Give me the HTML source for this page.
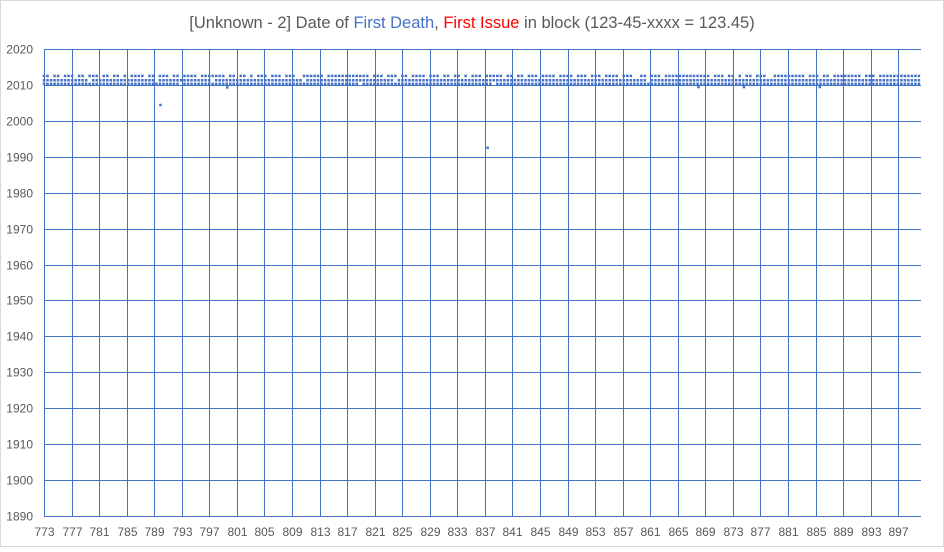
<!DOCTYPE html>
<html><head><meta charset="utf-8"><style>
body{margin:0;background:#fff;font-family:"Liberation Sans",sans-serif}
#wrap{position:relative;width:944px;height:547px;}
</style></head><body>
<div id="wrap">
<svg id="chart" width="944" height="547">
<rect x="0.5" y="0.5" width="943" height="546" fill="#fff" stroke="#d9d9d9"/>
<text x="472" y="28" text-anchor="middle" font-size="16.5" fill="#595959">[Unknown - 2] Date of <tspan fill="#4472c4">First Death</tspan>, <tspan fill="#ff0000">First Issue</tspan> in block (123-45-xxxx = 123.45)</text>
<g id="grid"></g><g id="pts"></g><g id="labels"></g>
</svg>
</div>
<script>
const xTicks=[773,777,781,785,789,793,797,801,805,809,813,817,821,825,829,833,837,841,845,849,853,857,861,865,869,873,877,881,885,889,893,897];
const yTicks=[1890,1900,1910,1920,1930,1940,1950,1960,1970,1980,1990,2000,2010,2020];
const levelYears=[2012.5,2011.3,2010.3];
const xStart=773,xEnd=900;
// presence flags evenly spaced from xStart to xEnd (one string per level)
const levelRows=[
"1101101110110111011011010111101101110110111101111111011011010111011101110011111101111111111110111011101101111011101101101011101111101101101110111101111011101110111101110011011101111111111111011101101011011100111111111011101101111111101110111111111111",
"1111111111111011111111111111111101111111111111110111111111111111111111111101111111111111111111111111011111111111111111111111111111111111111111111111111111111111111111111111011111111111111111111111111111111111111111111111111111111111111111111111111111",
"1111111111111111111111111111111111111110111111111111111111111111111111111111111111111111110111111111111111111111111111111111111101111111111111111111111111111111111111111111111111111111111111111111111111111111111111111111111111111111111111111111111111"];
const outX=[789.9,837.4,799.6,868.0,874.6,885.6];
const outY=[2004.4,1992.5,2009.3,2009.4,2009.4,2009.4];
const L=44,R=921,T=49,B=516,X0=773,X1=900.3,Y0=1890,Y1=2020;
const sx=v=>L+(v-X0)/(X1-X0)*(R-L);
const sy=v=>B-(v-Y0)/(Y1-Y0)*(B-T);
const NS="http://www.w3.org/2000/svg";
const grid=document.getElementById('grid'),pts=document.getElementById('pts'),lab=document.getElementById('labels');
function mk(tag,attrs,parent){const e=document.createElementNS(NS,tag);for(const k in attrs)e.setAttribute(k,attrs[k]);parent.appendChild(e);return e;}
yTicks.forEach(v=>{
 const y=Math.round(sy(v))+0.5;
 const l=mk('line',{x1:L,x2:R,y1:y,y2:y,stroke:'#4472c4','stroke-width':1},grid);
 
 
 const t=mk('text',{x:33,y:y+4,'text-anchor':'end','font-size':12,fill:'#595959'},lab);
 t.textContent=v;
 
 
});
xTicks.forEach(v=>{
 const x=Math.round(sx(v))+0.5;
 const l=mk('line',{x1:x,x2:x,y1:T,y2:B,stroke:'#4472c4','stroke-width':1},grid);
 
 
 const t=mk('text',{x:x,y:536,'text-anchor':'middle','font-size':12,fill:'#595959'},lab);
 t.textContent=v;
 
 
});
levelRows.forEach((row,li)=>{
 const step=(xEnd-xStart)/(row.length-1);
 for(let i=0;i<row.length;i++){
  if(row[i]!=='1')continue;
  const xv=xStart+i*step;
  const c=mk('rect',{x:sx(xv)-1.25,y:sy(levelYears[li])-1.25,width:2.5,height:2.5,fill:'#4472c4'},pts);
  
  
 }
});
outX.forEach((xv,i)=>{
 const c=mk('rect',{x:sx(xv)-1.25,y:sy(outY[i])-1.25,width:2.5,height:2.5,fill:'#4472c4'},pts);
 
 
});
</script>
</body></html>
